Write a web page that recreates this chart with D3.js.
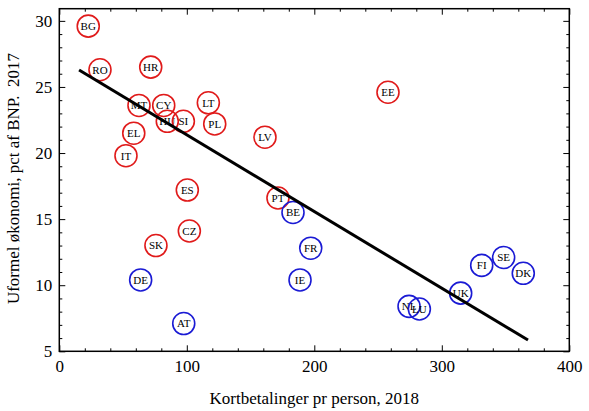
<!DOCTYPE html>
<meta charset="utf-8">
<style>
	body { margin: 0; background: #fff; }
	text { font-family: "Liberation Serif", "Times New Roman", serif; fill: #000; }
	.tick text { font-size: 17px; }
	.tick line { stroke: #000; }
	.domain { stroke: none; }
	.lab { font-size: 11px; text-anchor: middle; }
	.title { font-size: 17px; white-space: pre; }
</style>
<body>
<script src="https://d3js.org/d3.v7.min.js"></script>
<script>

	// country codes, card payments per person 2018, informal economy pct of GDP 2017
	var countries = ["BG", "RO", "HR", "MT", "CY", "HU", "SI", "LT", "PL", "EL", "IT", "LV", "EE", "ES", "PT", "CZ", "SK",
		"BE", "FR", "DE", "IE", "AT", "NL", "LU", "UK", "FI", "SE", "DK"];
	var cardPayments = [22.7, 31.9, 71.7, 62.5, 81.9, 84.7, 97.3, 116.9, 121.9, 58.4, 52.3, 161.3, 257.8, 100.4, 171.5, 102, 75.8,
		183.3, 197.2, 63.8, 188.8, 97.6, 274.3, 282.4, 314.8, 331.3, 348.5, 363.9];
	var informal = [29.6, 26.3, 26.5, 23.6, 23.6, 22.4, 22.4, 23.8, 22.2, 21.5, 19.8, 21.2, 24.6, 17.2, 16.6, 14.1, 13.0,
		15.5, 12.8, 10.4, 10.4, 7.1, 8.4, 8.2, 9.4, 11.5, 12.1, 10.9];
	var group = ["red", "red", "red", "red", "red", "red", "red", "red", "red", "red", "red", "red", "red", "red", "red", "red", "red",
		"blue", "blue", "blue", "blue", "blue", "blue", "blue", "blue", "blue", "blue", "blue"];

	// fitted line end points
	var fitX = [15.5, 367.6];
	var fitY = [26.28, 5.85];

	var xTicks = [0, 100, 200, 300, 400];
	var yTicks = [5, 10, 15, 20, 25, 30];

	var width = 589,
		height = 411;
	var margin = {top: 8.7, right: 20, bottom: 59.7, left: 59.3};
	var w = width - margin.left - margin.right,
		h = height - margin.top - margin.bottom;

	var x = d3.scaleLinear().domain([0, 400]).range([0, 510]);
	var y = d3.scaleLinear().domain([5, 30.92]).range([h, 0]);

	var color = d3.scaleOrdinal().domain(["red", "blue"]).range(["#e01a1a", "#1a1ad4"]);

	var svg = d3.select("body").append("svg")
		.attr("width", width)
		.attr("height", height)
		.append("g")
		.attr("transform", "translate(" + margin.left + "," + margin.top + ")");

	var minorX = d3.range(0, 401, 20).filter(function(d) { return d % 100 != 0; });
	var minorY = d3.range(5, 31, 1).filter(function(d) { return d % 5 != 0; });

	// major + minor ticks, inward, on all four sides
	svg.append("g").attr("transform", "translate(0," + h + ")")
		.call(d3.axisBottom(x).tickValues(xTicks).tickSize(-6).tickPadding(9).tickFormat(d3.format("d")));
	svg.append("g").attr("transform", "translate(0," + h + ")")
		.call(d3.axisBottom(x).tickValues(minorX).tickSize(-3).tickFormat(""));
	svg.append("g")
		.call(d3.axisTop(x).tickValues(xTicks).tickSize(-6).tickFormat(""));
	svg.append("g")
		.call(d3.axisTop(x).tickValues(minorX).tickSize(-3).tickFormat(""));

	svg.append("g")
		.call(d3.axisLeft(y).tickValues(yTicks).tickSize(-6).tickPadding(7).tickFormat(d3.format("d")));
	svg.append("g")
		.call(d3.axisLeft(y).tickValues(minorY).tickSize(-3).tickFormat(""));
	svg.append("g").attr("transform", "translate(" + x(400) + ",0)")
		.call(d3.axisRight(y).tickValues(yTicks).tickSize(-6).tickFormat(""));
	svg.append("g").attr("transform", "translate(" + x(400) + ",0)")
		.call(d3.axisRight(y).tickValues(minorY).tickSize(-3).tickFormat(""));

	svg.append("rect")
		.attr("width", x(400))
		.attr("height", h)
		.attr("fill", "none")
		.attr("stroke", "#000")
		.attr("stroke-width", 1.5);

	var pts = svg.selectAll(".pt")
		.data(countries)
		.enter().append("g")
		.attr("class", "pt")
		.attr("transform", function(d, i) { return "translate(" + x(cardPayments[i]) + "," + y(informal[i]) + ")"; });

	pts.append("circle")
		.attr("r", 11)
		.attr("fill", "none")
		.attr("stroke", function(d, i) { return color(group[i]); })
		.attr("stroke-width", 1.6);

	pts.append("text")
		.attr("class", "lab")
		.attr("dy", "0.35em")
		.text(function(d) { return d; });

	var line = d3.line()
		.x(function(d) { return x(d); })
		.y(function(d, i) { return y(fitY[i]); });

	svg.append("path")
		.datum(fitX)
		.attr("d", line)
		.attr("fill", "none")
		.attr("stroke", "#000")
		.attr("stroke-width", 3);

	svg.append("text")
		.attr("class", "title")
		.attr("x", x(200))
		.attr("y", h + 53)
		.attr("text-anchor", "middle")
		.text("Kortbetalinger pr person, 2018");

	svg.append("text")
		.attr("class", "title")
		.attr("transform", "translate(" + (-40.5) + "," + (178.5 - margin.top) + ") rotate(-90)")
		.attr("text-anchor", "middle")
		.text("Uformel økonomi, pct af BNP.  2017");
</script>
